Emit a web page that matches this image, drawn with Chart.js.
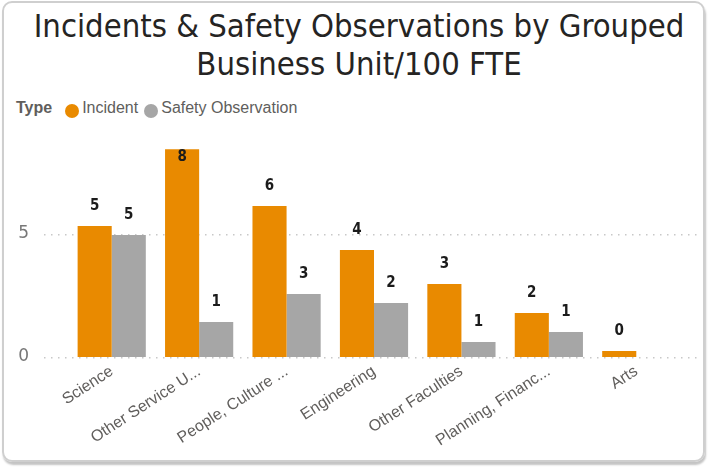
<!DOCTYPE html>
<html>
<head>
<meta charset="utf-8">
<script src="https://cdn.jsdelivr.net/npm/chart.js@4"></script>
<style>
  html, body { margin: 0; padding: 0; background: #fff; }
  #wrap { position: relative; width: 709px; height: 469px; overflow: hidden; }
  #card {
    position: absolute; left: 2px; top: 1px; width: 699px; height: 457px;
    border: 2px solid #cfcfcf; border-radius: 10px;
    box-shadow: 1px 3px 2px #c4c4c4;
  }
  #title {
    position: absolute; left: 0; top: 7px; width: 718px; text-align: center;
    font-family: "DejaVu Sans Condensed", "DejaVu Sans", sans-serif;
    font-size: 32.5px; line-height: 38px; color: #252423;
  }
  #legend {
    position: absolute; left: 16px; top: 98px; height: 20px;
    font-family: "Liberation Sans", Arial, sans-serif; font-size: 16px; color: #605e5c;
    display: flex; align-items: center; white-space: nowrap;
  }
  #legend b { margin-right: 12px; }
  .dot { width: 14px; height: 14px; border-radius: 50%; display: inline-block; margin: 5px 3px 0 1px; }
  canvas { position: absolute; left: 0; top: 0; }
</style>
</head>
<body>
<div id="wrap">
  <div id="card"></div>
  <div id="title">Incidents &amp; Safety Observations by Grouped<br>Business Unit/100 FTE</div>
  <div id="legend">
    <b>Type</b>
    <span class="dot" style="background:#e98a00"></span><span>Incident</span>
    <span class="dot" style="background:#a6a6a6; margin-left:6px"></span><span>Safety Observation</span>
  </div>
  <canvas id="chart" width="709" height="469"></canvas>
</div>
<script>
const units = ["Science", "Other Service U...", "People, Culture ...", "Engineering", "Other Faculties", "Planning, Financ...", "Arts"];
const incident = [5.33, 8.45, 6.14, 4.35, 2.97, 1.79, 0.24];
const safetyObs = [4.96, 1.42, 2.56, 2.2, 0.61, 1.02, null];
const yTicks = [0, 5];

const ORANGE = "#e98a00";
const GREY = "#a6a6a6";

// dotted gridlines that run past the plot area like in Power BI
const dottedGrid = {
  id: "dottedGrid",
  beforeDatasetsDraw(chart) {
    const ctx = chart.ctx;
    const y = chart.scales.y;
    ctx.save();
    ctx.fillStyle = "#c8c8c8";
    yTicks.forEach(function (t) {
      const py = Math.round(y.getPixelForValue(t));
      for (let x = 44; x < 702; x += 7) {
        ctx.fillRect(x, py, 1.5, 1.5);
      }
    });
    ctx.restore();
  },
};

const valueLabels = {
  id: "valueLabels",
  afterDatasetsDraw(chart) {
    const ctx = chart.ctx;
    ctx.save();
    ctx.fillStyle = "#1b1b1b";
    ctx.textAlign = "center";
    ctx.textBaseline = "middle";
    ctx.font = "bold 15px 'DejaVu Sans Condensed', sans-serif";
    chart.data.datasets.forEach(function (ds, i) {
      chart.getDatasetMeta(i).data.forEach(function (bar, idx) {
        const v = ds.data[idx];
        if (v === null || v === undefined) return;
        let yPos = bar.y - 20;
        if (yPos < chart.chartArea.top) yPos = bar.y + 8;
        ctx.fillText(Math.round(v), bar.x, yPos);
      });
    });
    ctx.restore();
  },
};

new Chart(document.getElementById("chart"), {
  type: "bar",
  data: {
    labels: units,
    datasets: [
      { label: "Incident", data: incident, backgroundColor: ORANGE, categoryPercentage: 0.78, barPercentage: 1 },
      { label: "Safety Observation", data: safetyObs, backgroundColor: GREY, categoryPercentage: 0.78, barPercentage: 1 },
    ],
  },
  options: {
    responsive: false,
    animation: false,
    layout: { padding: { top: 145, right: 29, left: 0, bottom: 0 } },
    plugins: {
      legend: { display: false },
      tooltip: { enabled: false },
    },
    scales: {
      x: {
        grid: { display: false },
        border: { display: false },
        afterFit: function (s) { s.height = 112; },
        ticks: {
          autoSkip: false,
          minRotation: 33,
          maxRotation: 33,
          padding: -3,
          color: "#605e5c",
          font: { family: "Liberation Sans", size: 16 },
        },
      },
      y: {
        min: 0,
        max: 8.62,
        afterFit: function (s) { s.width = 68; },
        afterBuildTicks: function (s) { s.ticks = yTicks.map(v => ({ value: v })); },
        grid: { display: false, drawTicks: false },
        border: { display: false },
        ticks: {
          padding: 39,
          color: "#777777",
          font: { family: "DejaVu Sans", size: 17 },
        },
      },
    },
  },
  plugins: [dottedGrid, valueLabels],
});
</script>
</body>
</html>
